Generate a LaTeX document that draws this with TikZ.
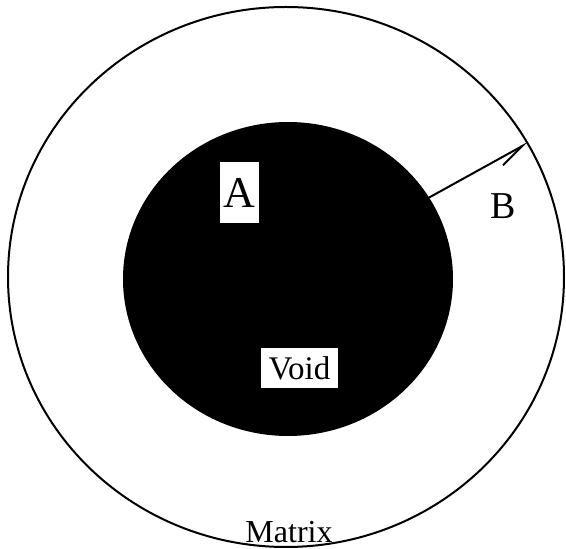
\documentclass[tikz,border=0pt]{standalone}
\usepackage{fontspec}
\setmainfont{Liberation Serif}
\usepackage{tikz}
\usetikzlibrary{shapes.geometric,arrows.meta}
\newcommand{\fs}[1]{\fontsize{#1}{#1}\selectfont}
\tikzset{
  rim/.style={ellipse, draw, line width=2pt, inner sep=0pt},
  tag/.style={fill=white, inner sep=0pt, align=center}
}

\begin{document}
\begin{tikzpicture}[x=1pt, y=1pt, line width=2pt]
  \useasboundingbox (0,0) rectangle (566,549);

  % ---------- matrix and void ----------
  \node[rim, minimum width=556pt, minimum height=540pt] (matrix) at (286,272) {};
  \node[rim, fill=black, minimum width=328pt, minimum height=312pt] (void) at (288,270) {};

  % ---------- labels ----------
  \node[tag, minimum width=39pt, minimum height=61pt] (a) at (239.5,356.5) {\fs{44}A};
  \node[tag, minimum width=77pt, minimum height=40pt] (voidlabel) at (299.5,181) {\fs{33}Void};
  \node[anchor=base, font=\fs{38}, inner sep=0pt] (b) at (503,330) {B};
  \node[anchor=base, font=\fs{32}, inner sep=0pt] (mtx) at (289,6) {Matrix};

  % ---------- thickness arrow ----------
  \draw[-{Straight Barb[length=26pt, width=15pt, right]}] (void.30.7) -- (matrix.29);

\end{tikzpicture}
\end{document}
